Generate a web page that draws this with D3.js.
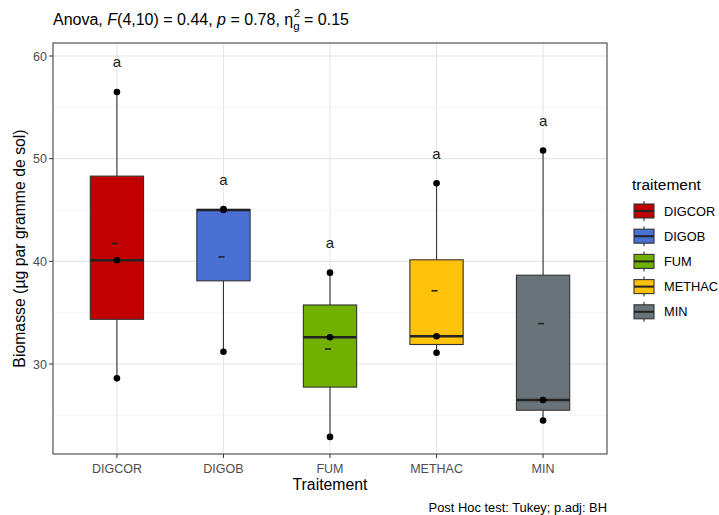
<!DOCTYPE html>
<html><head><meta charset="utf-8">
<script src="https://cdn.jsdelivr.net/npm/d3@7"></script>
<style>body{margin:0;background:#fff;}text{font-family:"Liberation Sans",Arial,sans-serif;}</style>
</head><body><svg id="c" width="719" height="515"></svg>
<script>
const categories = ["DIGCOR","DIGOB","FUM","METHAC","MIN"];
const colors = ["#C00000","#4A70D4","#72B000","#FFC20A","#69737A"];
const obsDIGCOR = [28.6, 40.1, 56.5];
const obsDIGOB = [31.2, 45.0, 45.1];
const obsFUM = [22.9, 32.6, 38.9];
const obsMETHAC = [31.1, 32.7, 47.6];
const obsMIN = [24.5, 26.5, 50.8];
const observations = [obsDIGCOR, obsDIGOB, obsFUM, obsMETHAC, obsMIN];
const letters = ["a","a","a","a","a"];
const yTicks = [30,40,50,60];
const yMinor = [25,35,45,55];

const svg = d3.select("#c");
const L=53, R=607, T=43, B=454;
const y = d3.scaleLinear().domain([30,60]).range([364,56]);
const step = (R-L)/5.2;
const xc = d3.scalePoint().domain(categories).range([L+0.6*step, R-0.6*step]);
const bw = step*0.5;

// gridlines
const g = svg.append("g");
yMinor.forEach(v=>g.append("line").attr("x1",L).attr("x2",R).attr("y1",y(v)).attr("y2",y(v)).attr("stroke","#F0F0F0").attr("stroke-width",0.6));
yTicks.forEach(v=>g.append("line").attr("x1",L).attr("x2",R).attr("y1",y(v)).attr("y2",y(v)).attr("stroke","#E6E6E6").attr("stroke-width",1.1));
categories.forEach(c=>g.append("line").attr("x1",xc(c)).attr("x2",xc(c)).attr("y1",T).attr("y2",B).attr("stroke","#E6E6E6").attr("stroke-width",1.1));

function q(arr,p){const s=arr.slice().sort((a,b)=>a-b);return d3.quantile(s,p);}

categories.forEach((c,i)=>{
  const d = observations[i];
  const cx = xc(c);
  const q1=q(d,0.25), med=q(d,0.5), q3=q(d,0.75);
  const iqr=q3-q1;
  const lo = d3.min(d.filter(v=>v>=q1-1.5*iqr));
  const hi = d3.max(d.filter(v=>v<=q3+1.5*iqr));
  const mean = d3.mean(d);
  svg.append("line").attr("x1",cx).attr("x2",cx).attr("y1",y(hi)).attr("y2",y(q3)).attr("stroke","#333").attr("stroke-width",1.1);
  svg.append("line").attr("x1",cx).attr("x2",cx).attr("y1",y(q1)).attr("y2",y(lo)).attr("stroke","#333").attr("stroke-width",1.1);
  svg.append("rect").attr("x",cx-bw/2).attr("width",bw).attr("y",y(q3)).attr("height",y(q1)-y(q3))
     .attr("fill",colors[i]).attr("stroke","#333").attr("stroke-width",1.1);
  svg.append("line").attr("x1",cx-bw/2).attr("x2",cx+bw/2).attr("y1",y(med)).attr("y2",y(med)).attr("stroke","#222").attr("stroke-width",2.4);
  svg.append("line").attr("x1",cx-5).attr("x2",cx+1).attr("y1",y(mean)).attr("y2",y(mean)).attr("stroke","#222").attr("stroke-width",1.6);
  d.forEach(v=>svg.append("circle").attr("cx",cx).attr("cy",y(v)).attr("r",3.3).attr("fill","#000"));
  svg.append("text").attr("x",cx).attr("y",y(d3.max(d)+2.85)+4.8).attr("text-anchor","middle").attr("font-size",15).attr("fill","#1a1a1a").text(letters[i]);
});

// panel border
svg.append("rect").attr("x",L).attr("y",T).attr("width",R-L).attr("height",B-T).attr("fill","none").attr("stroke","#333").attr("stroke-width",1);

// axes
yTicks.forEach(v=>{
  svg.append("line").attr("x1",L-4).attr("x2",L).attr("y1",y(v)).attr("y2",y(v)).attr("stroke","#333");
  svg.append("text").attr("x",L-6).attr("y",y(v)+4.5).attr("text-anchor","end").attr("font-size",12.5).attr("fill","#4D4D4D").text(v);
});
categories.forEach(c=>{
  svg.append("line").attr("x1",xc(c)).attr("x2",xc(c)).attr("y1",B).attr("y2",B+4).attr("stroke","#333");
  svg.append("text").attr("x",xc(c)).attr("y",B+18.5).attr("text-anchor","middle").attr("font-size",12.5).attr("fill","#4D4D4D").text(c);
});
svg.append("text").attr("x",(L+R)/2).attr("y",490).attr("text-anchor","middle").attr("font-size",15.8).attr("fill","#000").text("Traitement");
svg.append("text").attr("transform",`translate(25,${(T+B)/2}) rotate(-90)`).attr("text-anchor","middle").attr("font-size",15.8).attr("fill","#000").text("Biomasse (µg par gramme de sol)");

// title
const t = svg.append("text").attr("x",L).attr("y",25).attr("font-size",16).attr("fill","#000");
t.append("tspan").text("Anova, ");
t.append("tspan").attr("font-style","italic").text("F");
t.append("tspan").text("(4,10) = 0.44, ");
t.append("tspan").attr("font-style","italic").text("p");
t.append("tspan").text(" = 0.78, η");
const etaEnd = t.node().getComputedTextLength();
t.append("tspan").attr("font-size",11.5).attr("dy",5).text("g");
t.append("tspan").attr("dy",-5).text(" = 0.15");
svg.append("text").attr("x",L+etaEnd+0.5).attr("y",17).attr("font-size",11.5).attr("fill","#000").text("2");

// caption
svg.append("text").attr("x",R).attr("y",512).attr("text-anchor","end").attr("font-size",12.9).attr("fill","#000").text("Post Hoc test: Tukey; p.adj: BH");

// legend
svg.append("text").attr("x",632).attr("y",189.5).attr("font-size",15.5).attr("fill","#000").text("traitement");
categories.forEach((c,i)=>{
  const cy = 211 + i*25.2;
  const kx = 644;
  svg.append("line").attr("x1",kx).attr("x2",kx).attr("y1",cy-10).attr("y2",cy+10).attr("stroke","#333").attr("stroke-width",1.1);
  svg.append("rect").attr("x",kx-10).attr("y",cy-7).attr("width",20).attr("height",14).attr("fill",colors[i]).attr("stroke","#333").attr("stroke-width",1.1);
  svg.append("line").attr("x1",kx-10).attr("x2",kx+10).attr("y1",cy).attr("y2",cy).attr("stroke","#222").attr("stroke-width",2);
  svg.append("text").attr("x",664).attr("y",cy+4.6).attr("font-size",12.8).attr("fill","#000").text(c);
});
</script></body></html>
